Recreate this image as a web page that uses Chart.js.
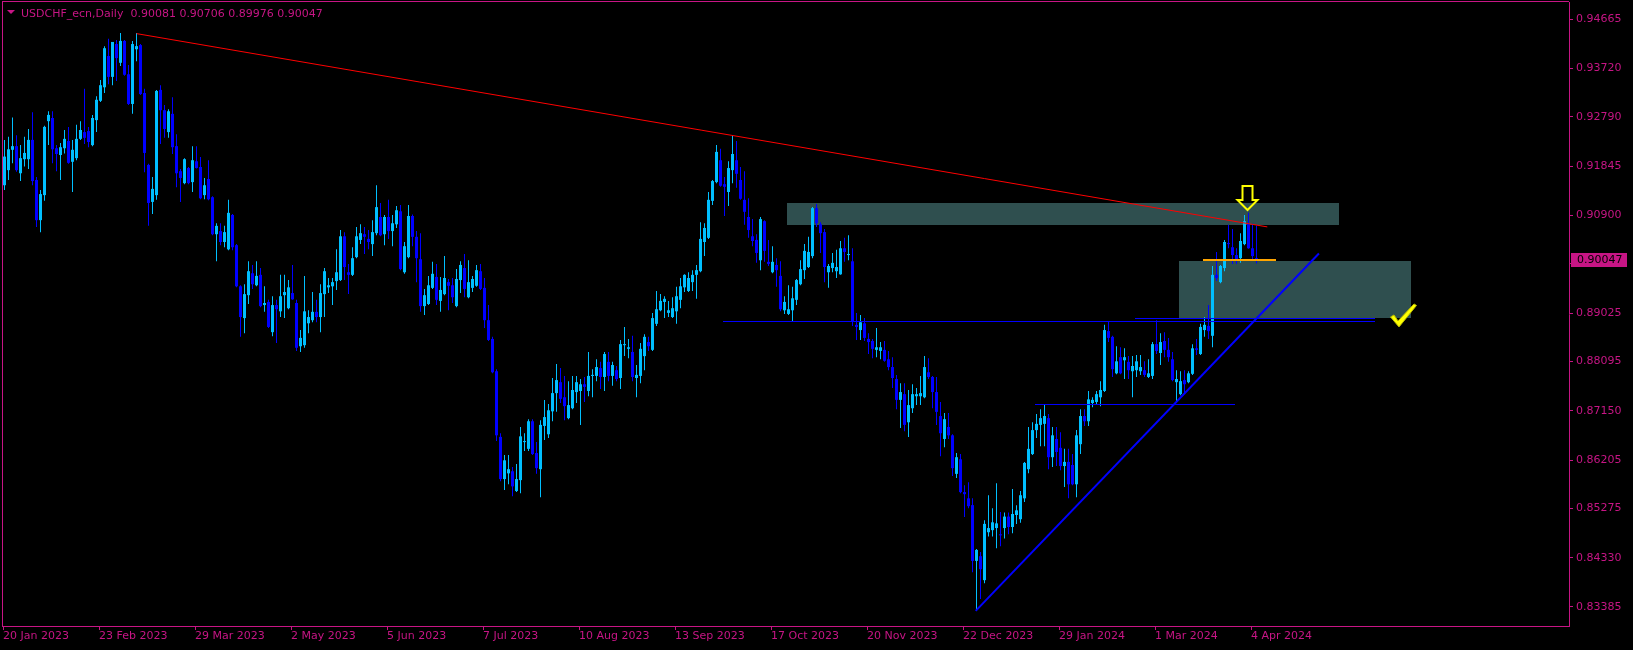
<!DOCTYPE html>
<html>
<head>
<meta charset="UTF-8">
<title>USDCHF_ecn,Daily</title>
<script src="https://cdn.jsdelivr.net/npm/chart.js@4.4.1/dist/chart.umd.min.js"></script>
<style>
  html, body { margin: 0; padding: 0; background: #000; overflow: hidden; }
  #wrap { width: 1633px; height: 650px; }
</style>
</head>
<body>
<div id="wrap"><canvas id="chart" width="1633" height="650"></canvas></div>
<script>
// Titre et derniere barre (O H L C)
const symbolName = 'USDCHF_ecn,Daily';
const lastBar = [0.90081, 0.90706, 0.89976, 0.90047];

// Etiquettes de l'axe du temps (une toutes les 24 barres)
const dateLabels = ['20 Jan 2023', '23 Feb 2023', '29 Mar 2023', '2 May 2023', '5 Jun 2023', '7 Jul 2023',
  '10 Aug 2023', '13 Sep 2023', '17 Oct 2023', '20 Nov 2023', '22 Dec 2023', '29 Jan 2024', '1 Mar 2024', '4 Apr 2024'];
const barsPerLabel = 24;

// Echelle de prix
const priceTicks = [0.94665, 0.93720, 0.92790, 0.91845, 0.90900, 0.89970, 0.89025,
  0.88095, 0.87150, 0.86205, 0.85275, 0.84330, 0.83385];

// Bougies journalieres
const opens = [
  .9148,.9177,.9216,.9223,.9171,.9198,.9198,.9235,.9158,.9081,
  .9129,.9271,.9277,.9219,.9206,.9219,.9233,.9193,.9200,.9237,
  .9250,.9252,.9225,.9273,.9310,.9336,.9396,.9356,.9419,.9383,
  .9425,.9361,.9304,.9409,.9417,.9325,.9187,.9116,.9129,.9331,
  .9292,.9250,.9285,.9223,.9175,.9152,.9181,.9154,.9194,.9183,
  .9129,.9160,.9125,.9054,.9060,.9039,.9025,.9091,.9033,.8954,
  .8893,.8937,.8979,.8956,.8976,.8918,.8924,.8866,.8918,.8906,
  .8937,.8912,.8941,.8922,.8839,.8841,.8883,.8889,.8905,.8895,
  .8939,.8952,.8954,.8964,.8966,.9050,.8981,.8976,.9010,.9043,
  .9054,.9045,.9035,.9056,.9087,.9054,.9087,.9060,.9073,.9098,
  .8981,.9010,.9089,.9049,.9006,.8916,.8920,.8951,.8972,.8926,
  .8939,.8962,.8956,.8916,.8966,.8989,.8933,.8951,.8955,.8983,
  .8951,.8889,.8853,.8791,.8665,.8584,.8595,.8599,.8561,.8582,
  .8655,.8642,.8695,.8634,.8603,.8686,.8670,.8714,.8749,.8770,
  .8741,.8701,.8720,.8751,.8753,.8766,.8753,.8782,.8782,.8797,
  .8780,.8809,.8782,.8793,.8778,.8841,.8834,.8828,.8778,.8782,
  .8820,.8847,.8832,.8882,.8908,.8924,.8903,.8895,.8906,.8928,
  .8952,.8945,.8962,.8976,.8983,.9039,.9047,.9118,.9154,.9196,
  .9150,.9135,.9177,.9196,.9158,.9120,.9087,.9050,.9043,.9004,
  .9079,.9001,.8981,.8995,.8974,.8908,.8901,.8908,.8928,.8958,
  .8985,.8991,.9012,.9104,.9073,.9058,.8981,.8989,.8983,.8977,
  .9027,.9014,.9002,.8880,.8870,.8883,.8853,.8849,.8832,.8830,
  .8832,.8814,.8799,.8776,.8736,.8747,.8693,.8720,.8743,.8743,
  .8741,.8789,.8780,.8751,.8705,.8661,.8684,.8668,.8594,.8622,
  .8559,.8547,.8534,.8427,.8436,.8390,.8482,.8486,.8490,.8478,
  .8490,.8512,.8492,.8515,.8507,.8547,.8603,.8632,.8678,.8688,
  .8690,.8701,.8626,.8661,.8644,.8609,.8617,.8611,.8574,.8651,
  .8705,.8695,.8730,.8732,.8741,.8753,.8868,.8857,.8787,.8818,
  .8812,.8809,.8791,.8793,.8791,.8793,.8780,.8782,.8843,.8826,
  .8849,.8832,.8814,.8770,.8747,.8774,.8770,.8786,.8835,.8824,
  .8870,.8878,.8859,.8976,.8962,.8989,.9037,.9029,.9014,.9008,
  .9035,.9075,.9027,.90081
];
const highs = [
  .9235,.9241,.9278,.9244,.9225,.9241,.9256,.9288,.9164,.9139,
  .9262,.9290,.9290,.9225,.9229,.9254,.9260,.9235,.9264,.9271,
  .9333,.9260,.9283,.9319,.9350,.9415,.9429,.9423,.9427,.9440,
  .9427,.9379,.9425,.9440,.9419,.9333,.9189,.9164,.9331,.9340,
  .9302,.9294,.9317,.9246,.9179,.9200,.9183,.9223,.9223,.9202,
  .9162,.9196,.9127,.9075,.9075,.9070,.9120,.9093,.9035,.8956,
  .8958,.9002,.8995,.9002,.8989,.8954,.8928,.8935,.8928,.8976,
  .8976,.8966,.8995,.8928,.8870,.8974,.8908,.8943,.8928,.8958,
  .8989,.8970,.8970,.9025,.9062,.9058,.8997,.9029,.9068,.9073,
  .9068,.9062,.9081,.9148,.9114,.9091,.9120,.9091,.9108,.9110,
  .9039,.9110,.9092,.9060,.9056,.8949,.8974,.9001,.8997,.8972,
  .9012,.8968,.8970,.8987,.9002,.9016,.9004,.8974,.8995,.8997,
  .8970,.8918,.8857,.8795,.8672,.8630,.8630,.8607,.8613,.8684,
  .8672,.8699,.8699,.8655,.8697,.8736,.8728,.8778,.8805,.8797,
  .8782,.8772,.8782,.8782,.8776,.8780,.8828,.8795,.8814,.8809,
  .8828,.8828,.8809,.8801,.8851,.8876,.8853,.8859,.8803,.8845,
  .8862,.8857,.8903,.8945,.8939,.8935,.8926,.8933,.8953,.8970,
  .8977,.8981,.8985,.8995,.9077,.9075,.9135,.9158,.9225,.9218,
  .9164,.9194,.9244,.9233,.9183,.9175,.9123,.9083,.9054,.9087,
  .9081,.9043,.9031,.9008,.9002,.8935,.8956,.8953,.8968,.9004,
  .9035,.9049,.9106,.9112,.9077,.9064,.8997,.9018,.9024,.9041,
  .9047,.9052,.9027,.8903,.8899,.8893,.8864,.8853,.8874,.8847,
  .8849,.8830,.8818,.8784,.8768,.8768,.8755,.8766,.8759,.8782,
  .8820,.8816,.8782,.8780,.8732,.8711,.8711,.8670,.8634,.8632,
  .8572,.8578,.8547,.8450,.8444,.8505,.8553,.8528,.8576,.8521,
  .8520,.8520,.8565,.8534,.8561,.8617,.8684,.8693,.8709,.8718,
  .8726,.8709,.8684,.8684,.8674,.8642,.8642,.8632,.8678,.8718,
  .8718,.8753,.8741,.8753,.8772,.8880,.8887,.8859,.8839,.8837,
  .8835,.8820,.8820,.8822,.8822,.8810,.8814,.8847,.8889,.8864,
  .8866,.8855,.8828,.8793,.8791,.8793,.8791,.8843,.8853,.8882,
  .8895,.8918,.8993,.9020,.8995,.9043,.9072,.9064,.9027,.9056,
  .9091,.9095,.9074,.90706
];
const lows = [
  .9139,.9158,.9190,.9174,.9156,.9184,.9179,.9148,.9068,.9058,
  .9118,.9225,.9190,.9175,.9158,.9209,.9189,.9135,.9196,.9235,
  .9227,.9221,.9223,.9250,.9308,.9325,.9342,.9340,.9348,.9377,
  .9358,.9302,.9285,.9386,.9321,.9173,.9070,.9093,.9120,.9227,
  .9239,.9239,.9208,.9144,.9116,.9150,.9150,.9135,.9180,.9121,
  .9121,.9119,.9052,.9002,.9033,.9029,.9023,.9023,.8952,.8857,
  .8864,.8920,.8949,.8954,.8914,.8905,.8874,.8858,.8845,.8895,
  .8893,.8910,.8928,.8830,.8828,.8836,.8864,.8885,.8885,.8866,
  .8895,.8941,.8918,.8947,.8964,.8966,.8939,.8974,.9008,.9035,
  .9016,.9025,.9012,.9052,.9050,.9033,.9045,.9031,.9066,.8985,
  .8978,.9008,.9031,.8962,.8905,.8899,.8918,.8949,.8918,.8905,
  .8937,.8908,.8922,.8914,.8941,.8933,.8931,.8943,.8953,.8947,
  .8874,.8849,.8787,.8657,.8580,.8563,.8574,.8551,.8559,.8557,
  .8638,.8638,.8630,.8594,.8549,.8659,.8663,.8695,.8713,.8730,
  .8697,.8699,.8718,.8730,.8688,.8732,.8743,.8741,.8772,.8757,
  .8753,.8772,.8763,.8772,.8757,.8820,.8816,.8772,.8741,.8768,
  .8793,.8830,.8830,.8878,.8906,.8893,.8895,.8893,.8882,.8912,
  .8943,.8943,.8945,.8930,.8981,.9012,.9045,.9110,.9152,.9145,
  .9089,.9108,.9152,.9143,.9120,.9072,.9047,.9031,.8999,.8985,
  .9001,.8993,.8979,.8953,.8906,.8901,.8899,.8887,.8918,.8956,
  .8968,.8989,.9008,.9068,.9018,.8962,.8951,.8981,.8970,.8976,
  .9001,.9004,.8878,.8851,.8851,.8849,.8824,.8816,.8818,.8814,
  .8809,.8793,.8759,.8718,.8682,.8676,.8665,.8711,.8726,.8726,
  .8739,.8776,.8720,.8688,.8628,.8645,.8661,.8590,.8586,.8557,
  .8511,.8528,.8405,.8332,.8354,.8384,.8474,.8474,.8451,.8455,
  .8470,.8478,.8480,.8498,.8500,.8540,.8595,.8630,.8663,.8647,
  .8647,.8603,.8607,.8609,.8601,.8569,.8547,.8572,.8549,.8632,
  .8686,.8686,.8722,.8726,.8724,.8751,.8847,.8780,.8785,.8785,
  .8776,.8776,.8741,.8780,.8784,.8780,.8778,.8776,.8824,.8803,
  .8818,.8809,.8772,.8732,.8745,.8749,.8768,.8784,.8822,.8822,
  .8857,.8853,.8837,.8964,.8960,.8983,.9027,.8997,.8997,.8999,
  .9033,.9026,.9006,.89976
];
const closes = [
  .9203,.9217,.9223,.9177,.9200,.9210,.9235,.9156,.9081,.9131,
  .9260,.9283,.9217,.9208,.9221,.9237,.9191,.9216,.9237,.9254,
  .9239,.9231,.9277,.9312,.9340,.9411,.9356,.9423,.9392,.9425,
  .9360,.9304,.9419,.9415,.9323,.9210,.9114,.9141,.9329,.9292,
  .9256,.9290,.9221,.9171,.9162,.9198,.9152,.9196,.9181,.9123,
  .9148,.9121,.9054,.9070,.9039,.9058,.9095,.9029,.8954,.8895,
  .8939,.8983,.8958,.8974,.8916,.8922,.8876,.8918,.8910,.8935,
  .8943,.8952,.8929,.8836,.8855,.8906,.8895,.8905,.8895,.8941,
  .8983,.8956,.8962,.8981,.9050,.8991,.8976,.9008,.9050,.9056,
  .9049,.9039,.9058,.9106,.9052,.9087,.9060,.9075,.9100,.8987,
  .9031,.9089,.9049,.9008,.8916,.8937,.8956,.8978,.8928,.8947,
  .8970,.8955,.8933,.8968,.8995,.8949,.8962,.8968,.8985,.8949,
  .8889,.8851,.8789,.8668,.8584,.8620,.8603,.8570,.8584,.8666,
  .8657,.8695,.8632,.8605,.8688,.8703,.8716,.8749,.8774,.8738,
  .8724,.8726,.8755,.8770,.8766,.8761,.8782,.8784,.8799,.8780,
  .8824,.8782,.8803,.8776,.8843,.8843,.8837,.8780,.8784,.8834,
  .8857,.8839,.8893,.8910,.8926,.8930,.8908,.8912,.8935,.8954,
  .8976,.8970,.8976,.8985,.9045,.9066,.9120,.9156,.9212,.9147,
  .9145,.9181,.9208,.9170,.9122,.9097,.9062,.9041,.9018,.9083,
  .9022,.8997,.9001,.8985,.8910,.8924,.8910,.8931,.8966,.8987,
  .9022,.9020,.9104,.9075,.9056,.8991,.8993,.8999,.8991,.9027,
  .9020,.9016,.8887,.8876,.8885,.8855,.8847,.8834,.8837,.8837,
  .8811,.8799,.8778,.8736,.8751,.8688,.8726,.8747,.8747,.8749,
  .8799,.8780,.8751,.8713,.8672,.8699,.8668,.8605,.8626,.8559,
  .8555,.8532,.8427,.8448,.8411,.8498,.8490,.8501,.8499,.8476,
  .8512,.8492,.8517,.8524,.8553,.8615,.8642,.8678,.8690,.8701,
  .8705,.8626,.8668,.8636,.8609,.8617,.8574,.8574,.8668,.8705,
  .8695,.8737,.8736,.8747,.8755,.8870,.8855,.8795,.8810,.8787,
  .8818,.8793,.8801,.8810,.8799,.8784,.8787,.8843,.8830,.8847,
  .8832,.8818,.8774,.8776,.8772,.8766,.8787,.8835,.8832,.8876,
  .8880,.8868,.8976,.8970,.8993,.9039,.9035,.9014,.9006,.9041,
  .9079,.9027,.9012,.90047
];

// Objets traces sur le graphique (indice de barre, prix)
const redTrend = [[33, 0.9439], [315.7, 0.9068]];
const supportTrend = [[242.8, 0.8331], [328.6, 0.9017]];
const blueLevels = [[179.6, 342.6, 0.8887], [282.6, 342.6, 0.8893], [257.6, 307.6, 0.87275]];
const orangeLevel = [299.6, 317.9, 0.9004];
const zones = [[195.6, 333.6, 0.9114, 0.9072], [293.6, 351.6, 0.90025, 0.8894]];
const arrowTip = [310.6, 0.9100];
const checkTip = [348.5, 0.8876];

const AXIS = '#C71585';
const BULL = '#00BFFF';
const BEAR = '#0000FF';
const FONT = { family: 'DejaVu Sans', size: 11 };

const index = opens.map((_, i) => i);
const candleColors = index.map(i => closes[i] >= opens[i] ? BULL : BEAR);

// Dessins : zones derriere les bougies, lignes et fleches devant
const drawings = {
  id: 'drawings',
  beforeDatasetsDraw(chart) {
    const { ctx, scales: { x, y } } = chart;
    ctx.save();
    ctx.fillStyle = '#2F4F4F';
    zones.forEach(([i0, i1, p0, p1]) => {
      const x0 = Math.round(x.getPixelForValue(i0)), x1 = Math.round(x.getPixelForValue(i1));
      const y0 = Math.round(y.getPixelForValue(p0)), y1 = Math.round(y.getPixelForValue(p1));
      ctx.fillRect(x0, y0, x1 - x0, y1 - y0);
    });
    ctx.restore();
  },
  afterDatasetsDraw(chart) {
    const { ctx, scales: { x, y } } = chart;
    ctx.save();

    const segment = (a, b, color, width) => {
      ctx.strokeStyle = color;
      ctx.lineWidth = width;
      ctx.beginPath();
      ctx.moveTo(x.getPixelForValue(a[0]), y.getPixelForValue(a[1]));
      ctx.lineTo(x.getPixelForValue(b[0]), y.getPixelForValue(b[1]));
      ctx.stroke();
    };
    const level = (i0, i1, p, color, width) => {
      let yy = Math.round(y.getPixelForValue(p));
      if (width % 2) yy += 0.5;
      ctx.strokeStyle = color;
      ctx.lineWidth = width;
      ctx.beginPath();
      ctx.moveTo(Math.round(x.getPixelForValue(i0)), yy);
      ctx.lineTo(Math.round(x.getPixelForValue(i1)), yy);
      ctx.stroke();
    };

    blueLevels.forEach(([i0, i1, p]) => level(i0, i1, p, BEAR, 1));
    level(orangeLevel[0], orangeLevel[1], orangeLevel[2], '#FFA500', 2);
    segment(supportTrend[0], supportTrend[1], BEAR, 2);
    segment(redTrend[0], redTrend[1], '#FF0000', 1);

    // fleche vers le bas (contour jaune)
    const ax = Math.round(x.getPixelForValue(arrowTip[0])) + 0.5;
    const ay = Math.round(y.getPixelForValue(arrowTip[1]));
    ctx.strokeStyle = '#FFFF00';
    ctx.lineWidth = 2;
    ctx.beginPath();
    ctx.moveTo(ax, ay);
    ctx.lineTo(ax - 10, ay - 10);
    ctx.lineTo(ax - 5, ay - 10);
    ctx.lineTo(ax - 5, ay - 24);
    ctx.lineTo(ax + 5, ay - 24);
    ctx.lineTo(ax + 5, ay - 10);
    ctx.lineTo(ax + 10, ay - 10);
    ctx.closePath();
    ctx.stroke();

    // coche jaune
    const cx = x.getPixelForValue(checkTip[0]);
    const cy = y.getPixelForValue(checkTip[1]);
    ctx.fillStyle = '#FFFF00';
    ctx.strokeStyle = '#B8B800';
    ctx.lineWidth = 1;
    ctx.beginPath();
    ctx.moveTo(cx - 8, cy - 10);
    ctx.lineTo(cx - 4.5, cy - 12);
    ctx.lineTo(cx - 0.5, cy - 6);
    ctx.lineTo(cx + 15.5, cy - 23);
    ctx.lineTo(cx + 18, cy - 21.5);
    ctx.lineTo(cx + 0.5, cy);
    ctx.closePath();
    ctx.fill();
    ctx.stroke();
    ctx.restore();
  },
  afterDraw(chart) {
    const { ctx, chartArea: area, scales: { y } } = chart;
    ctx.save();
    // cadre haut et gauche
    ctx.fillStyle = AXIS;
    ctx.fillRect(area.left, area.top - 1, area.right - area.left, 1);
    ctx.fillRect(area.left, area.top - 1, 1, area.bottom - area.top + 1);

    // titre
    ctx.beginPath();
    ctx.moveTo(7, 10);
    ctx.lineTo(15, 10);
    ctx.lineTo(11, 14);
    ctx.closePath();
    ctx.fill();
    ctx.font = '11px "DejaVu Sans"';
    ctx.textBaseline = 'alphabetic';
    ctx.textAlign = 'left';
    ctx.fillText(symbolName + '  ' + lastBar.map(v => v.toFixed(5)).join(' '), 21, 17);

    // etiquette du dernier prix
    const last = lastBar[3];
    const py = Math.round(y.getPixelForValue(last));
    ctx.fillRect(area.right + 2, py - 7, 56, 14);
    ctx.fillStyle = '#000000';
    ctx.textBaseline = 'middle';
    ctx.fillText(last.toFixed(5), area.right + 8, py + 0.5);
    ctx.restore();
  }
};

new Chart(document.getElementById('chart'), {
  type: 'bar',
  data: {
    datasets: [
      {
        label: 'body',
        data: index.map(i => ({ x: i, y: [opens[i], closes[i]] })),
        backgroundColor: candleColors,
        barThickness: 3,
        minBarLength: 1,
        grouped: false,
        inflateAmount: 0,
        borderWidth: 0,
        order: 1
      },
      {
        label: 'wick',
        data: index.map(i => ({ x: i, y: [lows[i], highs[i]] })),
        backgroundColor: candleColors,
        barThickness: 1,
        minBarLength: 1,
        grouped: false,
        inflateAmount: 0,
        borderWidth: 0,
        order: 2
      }
    ]
  },
  options: {
    responsive: false,
    animation: false,
    devicePixelRatio: 1,
    layout: { padding: { left: 2, top: 2, right: 0, bottom: 0 } },
    plugins: {
      legend: { display: false },
      tooltip: { enabled: false },
      title: { display: false }
    },
    scales: {
      x: {
        type: 'linear',
        min: -0.625,
        max: 391.125,
        offset: false,
        grid: { display: true, drawOnChartArea: false, offset: false, tickLength: 4, tickColor: AXIS, color: AXIS },
        border: { color: AXIS, width: 1 },
        afterBuildTicks: s => { s.ticks = dateLabels.map((_, k) => ({ value: k * barsPerLabel - 0.35 })); },
        afterFit: s => {
          s.height = 24;
          s.paddingLeft = 0;
          s.paddingRight = 0;
        },
        ticks: {
          color: AXIS,
          font: FONT,
          padding: 0,
          align: 'start',
          maxRotation: 0,
          minRotation: 0,
          autoSkip: false,
          callback: (v, k) => dateLabels[k]
        }
      },
      y: {
        type: 'linear',
        position: 'right',
        min: 0.83020,
        max: 0.94997,
        grid: { display: true, drawOnChartArea: false, tickLength: 4, tickColor: AXIS, color: AXIS },
        border: { color: AXIS, width: 1 },
        afterBuildTicks: s => { s.ticks = priceTicks.map(v => ({ value: v })); },
        afterFit: s => {
          s.width = 64;
          s.paddingTop = 0;
          s.paddingBottom = 0;
        },
        ticks: {
          color: AXIS,
          font: FONT,
          padding: 3,
          autoSkip: false,
          callback: v => v.toFixed(5)
        }
      }
    }
  },
  plugins: [drawings]
});
</script>
</body>
</html>
